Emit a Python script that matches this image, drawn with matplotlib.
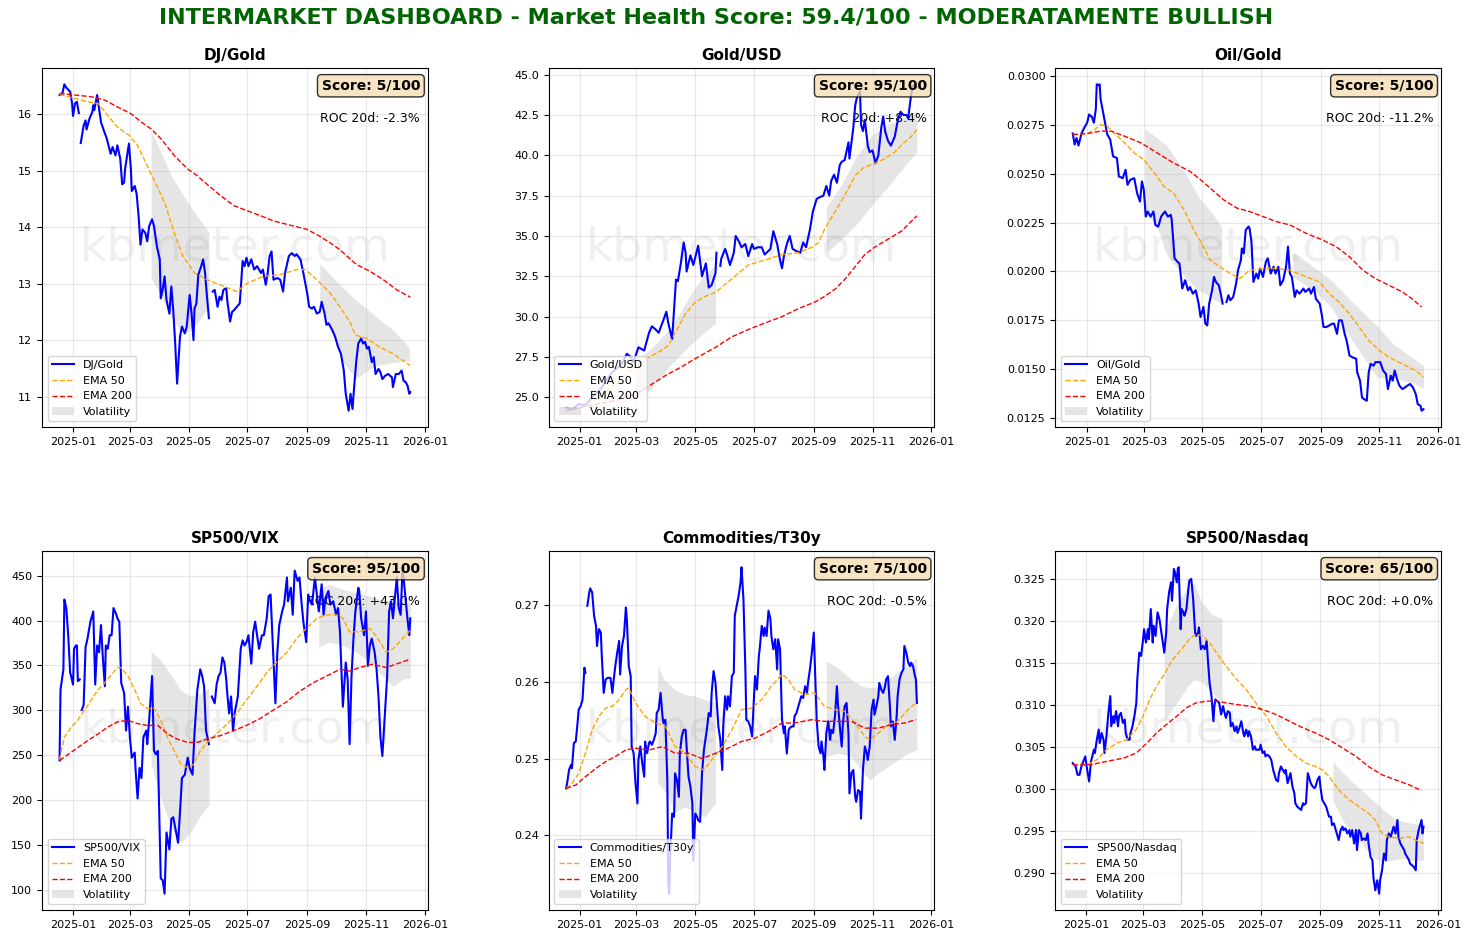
import numpy as np
import pandas as pd
import matplotlib
matplotlib.use("Agg")
import matplotlib.pyplot as plt
import matplotlib.dates as mdates

nan = float("nan")
BASE = pd.Timestamp("2025-01-01")

# ---------------- DATA (day offset from 2025-01-01, value) ----------------
titles = ["DJ/Gold", "Gold/USD", "Oil/Gold", "SP500/VIX", "Commodities/T30y", "SP500/Nasdaq"]
scores = [5, 95, 5, 95, 75, 65]
roc_20d = ["-2.3%", "+8.4%", "-11.2%", "+43.0%", "-0.5%", "+0.0%"]

djgold_price = [(-14,16.34),(-11,16.37),(-9,16.53),(-7,16.47),(-3,16.40),(-1,16.19),(0,15.97),(2,16.19),(4,16.22),(6,16.02),(7,nan),
 (8,15.49),(11,15.80),(13,15.89),(14,15.73),(17,15.92),(20,16.04),(21,16.16),(22,16.07),(25,16.34),(27,16.10),(29,15.86),(32,15.71),
 (35,15.57),(39,15.30),(41,15.42),(44,15.27),(46,15.45),(49,15.21),(51,14.76),(53,14.79),(54,15.03),(58,15.48),(60,15.03),(61,14.64),
 (64,14.73),(66,14.59),(68,14.20),(70,13.69),(72,13.96),(75,13.90),(77,13.75),(79,14.02),(82,14.14),(84,14.02),(87,13.66),(90,13.43),
 (91,12.74),(93,12.89),(95,13.13),(97,12.71),(100,12.47),(102,12.95),(104,12.53),(106,11.94),(108,11.23),(111,12.06),(113,12.24),
 (116,12.12),(118,12.24),(121,12.80),(123,12.47),(125,12.00),(126,12.56),(128,12.65),(130,13.16),(133,13.31),(135,13.43),(137,13.19),
 (139,12.77),(141,12.39),(143,nan),(145,12.86),(147,12.89),(150,12.59),(152,12.77),(154,12.71),(156,12.89),(159,12.92),(160,12.71),
 (163,12.33),(165,12.50),(167,12.53),(170,12.59),(173,12.65),(176,13.40),(178,13.31),(180,13.46),(182,13.31),(185,13.43),(188,13.25),
 (191,13.31),(195,13.19),(197,13.25),(200,12.98),(202,13.19),(204,13.49),(206,13.57),(208,13.07),(212,13.10),(215,13.07),(218,12.86),
 (220,13.19),(224,13.49),(227,13.54),(230,13.49),(232,13.52),(236,13.43),(239,13.19),(243,12.83),(245,12.59),(248,12.56),(250,12.59),
 (253,12.47),(256,12.50),(258,12.68),(261,12.47),(263,12.27),(265,12.30),(269,12.18),(272,12.06),(275,11.88),(278,11.76),(281,11.46),
 (283,11.05),(286,10.75),(288,11.05),(290,10.78),(292,11.23),(294,11.64),(296,11.94),(299,12.03),(301,11.94),(303,11.97),(305,11.85),
 (307,11.88),(310,11.61),(312,11.70),(314,11.40),(317,11.49),(319,11.43),(321,11.31),(324,11.37),(327,11.40),(331,11.34),(332,11.17),
 (335,11.40),(338,11.40),(341,11.46),(343,11.28),(345,11.26),(347,11.20),(349,11.05),(350,11.08)]
djgold_ema50 = [(-14,16.35),(2,16.28),(15,16.22),(26,16.19),(36,15.98),(46,15.77),(58,15.63),(67,15.45),(81,14.94),(95,14.44),(105,13.90),
 (114,13.49),(126,13.19),(139,13.07),(157,12.95),(170,12.86),(181,13.01),(198,13.13),(215,13.16),(232,13.25),(241,13.25),(253,13.07),
 (267,12.83),(277,12.59),(288,12.30),(293,12.09),(305,12.03),(318,11.88),(332,11.76),(350,11.55)]
djgold_ema200 = [(-14,16.37),(2,16.34),(19,16.31),(33,16.25),(46,16.13),(60,16.01),(71,15.86),(81,15.74),(91,15.57),(105,15.27),(119,15.03),
 (129,14.91),(139,14.76),(153,14.56),(167,14.38),(181,14.29),(195,14.20),(208,14.11),(222,14.05),(243,13.96),(256,13.84),(267,13.72),
 (277,13.60),(288,13.43),(294,13.34),(308,13.22),(322,13.07),(336,12.89),(350,12.76)]
djgold_vol1 = [(81,13.10,15.71),(91,12.80,15.33),(102,12.40,14.91),(115,12.10,14.55),(129,12.30,14.19),(141,12.60,13.91)]
djgold_vol2 = [(256,12.70,13.35),(267,12.20,13.16),(280,11.60,12.93),(294,11.32,12.70),(305,11.45,12.55),(315,11.55,12.41),(332,11.60,12.18),(349,11.64,11.87)]

goldusd_price = [(-14,24.38),(-8,24.25),(-1,24.58),(6,24.5),(13,25.0),(23,25.6),(33,26.5),(44,27.1),(49,27.7),(53,27.5),(56,27.2),(61,28.1),
 (67,27.9),(72,29.0),(75,29.4),(79,29.2),(82,29.0),(87,29.8),(90,30.3),(92,29.6),(96,28.6),(100,32.3),(102,32.2),(105,33.3),(108,34.6),
 (110,33.96),(111,32.8),(115,33.8),(118,33.2),(123,34.4),(127,32.5),(131,33.3),(134,31.8),(137,31.96),(141,32.7),(142,33.96),(144,nan),
 (146,33.15),(147,33.6),(151,34.2),(153,33.85),(156,33.2),(160,33.96),(162,35.0),(165,34.7),(168,34.3),(172,34.5),(175,33.75),(179,34.5),
 (181,34.2),(185,34.3),(189,34.3),(192,33.85),(194,33.96),(198,34.2),(201,35.3),(205,34.5),(208,33.5),(210,33.0),(212,33.75),(215,34.5),
 (218,35.0),(221,34.2),(225,34.06),(229,33.96),(232,34.6),(235,34.3),(239,35.4),(242,36.5),(246,37.3),(249,37.4),(253,37.5),(256,38.1),
 (259,37.5),(261,38.4),(264,38.8),(267,38.3),(270,39.4),(272,39.6),(275,39.7),(279,40.8),(280,39.8),(284,41.7),(286,43.1),(288,43.65),
 (291,43.96),(292,41.9),(294,41.5),(296,42.2),(299,40.6),(301,40.2),(304,40.3),(307,39.5),(310,40.0),(313,41.7),(315,42.4),(317,41.5),
 (320,40.9),(323,40.6),(327,41.15),(330,42.1),(333,42.7),(336,42.5),(339,42.5),(341,42.3),(344,43.75),(346,44.3),(348,44.4),(350,44.2)]
goldusd_ema50 = [(-14,24.17),(3,24.4),(20,25.0),(37,25.8),(54,26.7),(72,27.5),(82,27.8),(92,28.2),(101,29.2),(110,30.2),(120,30.9),(130,31.25),
 (141,31.5),(151,32.0),(161,32.5),(175,33.2),(192,33.5),(210,33.85),(227,33.96),(241,34.3),(248,34.6),(254,35.4),(265,36.5),(275,37.5),
 (286,38.75),(294,39.2),(306,39.5),(317,39.8),(327,40.2),(337,40.8),(344,41.15),(350,41.6)]
goldusd_ema200 = [(-14,24.17),(3,24.4),(20,24.6),(37,24.8),(58,25.2),(72,25.7),(89,26.35),(106,26.9),(123,27.5),(141,28.1),(158,28.75),
 (175,29.2),(192,29.6),(210,30.0),(227,30.5),(244,30.9),(254,31.25),(265,31.7),(275,32.3),(286,33.1),(296,33.85),(306,34.3),(320,34.8),
 (334,35.3),(350,36.25)]
goldusd_vol1 = [(58,24.9,27.3),(72,25.4,27.9),(96,27.1,29.4),(116,28.3,31.46),(131,29.1,32.7),(141,29.6,33.2)]
goldusd_vol2 = [(256,33.96,36.77),(270,34.7,38.0),(287,35.7,39.9),(304,36.96,41.3),(322,38.2,41.96),(339,39.46,42.4),(350,40.2,42.8)]

oilgold_price = [(-15,0.02707),(-13,0.0265),(-11,0.02684),(-9,0.02645),(-7,0.02684),(-6,0.02707),(-3,0.02736),(0,0.02762),(2,0.02804),
 (5,0.02792),(7,0.02762),(9,0.0283),(10,0.02959),(12,0.02954),(13,0.02959),(14,0.02882),(17,0.02804),(21,0.02701),(24,0.02676),(27,0.0259),
 (31,0.02581),(33,0.02487),(37,0.02478),(40,0.02521),(42,0.02444),(45,0.0247),(49,0.02478),(52,0.02401),(55,0.02358),(57,0.02461),
 (59,0.02418),(61,0.02281),(63,0.02307),(66,0.02281),(69,0.02307),(71,0.02238),(74,0.0223),(77,0.02281),(81,0.02307),(84,0.02281),
 (87,0.0229),(88,0.02264),(91,0.02067),(94,0.02049),(96,0.02041),(99,0.01912),(102,0.01955),(105,0.01903),(107,0.0192),(110,0.01886),
 (113,0.01903),(116,0.01835),(118,0.01766),(121,0.01818),(123,0.01732),(125,0.01723),(127,0.01835),(130,0.01903),(132,0.01972),
 (134,0.01946),(137,0.01929),(139,0.01886),(141,0.01835),(143,nan),(145,0.01843),(147,0.01878),(149,0.01852),(152,0.01869),(155,0.01938),
 (157,0.02006),(160,0.02058),(161,0.02118),(163,0.02092),(165,0.02212),(168,0.0223),(169,0.02221),(171,0.02152),(173,0.01946),
 (176,0.01989),(178,0.01963),(180,0.02015),(183,0.01972),(186,0.02049),(188,0.02067),(191,0.01989),(194,0.02024),(196,0.01989),
 (199,0.02024),(201,0.01929),(204,0.01955),(207,0.02024),(209,0.02127),(211,0.01989),(213,0.01972),(216,0.01869),(218,0.01903),
 (221,0.01886),(225,0.01912),(227,0.01895),(231,0.01912),(233,0.01886),(236,0.0192),(238,0.0186),(242,0.01835),(244,0.01783),
 (246,0.01715),(249,0.01715),(252,0.01723),(255,0.01732),(257,0.01732),(260,0.0168),(262,0.01749),(265,0.01749),(268,0.0168),
 (270,0.01646),(273,0.01569),(276,0.0156),(280,0.01552),(281,0.01483),(284,0.0144),(286,0.01354),(288,0.01346),(291,0.01337),
 (293,0.01483),(295,0.01526),(298,0.01517),(300,0.01535),(303,0.01535),(305,0.01535),(308,0.01492),(311,0.01474),(313,0.01397),
 (316,0.01466),(318,0.0144),(320,0.01492),(323,0.0144),(325,0.01414),(328,0.01397),(331,0.01406),(333,0.01414),(336,0.01423),
 (339,0.01406),(342,0.01371),(344,0.0132),(347,0.01311),(348,0.01286),(350,0.01294)]
oilgold_ema50 = [(-15,0.02701),(0,0.02707),(8,0.02727),(14,0.02753),(21,0.02744),(28,0.0271),(39,0.02659),(49,0.02607),(59,0.02573),
 (70,0.02504),(80,0.02435),(90,0.02401),(101,0.02315),(111,0.02212),(121,0.02127),(128,0.02058),(138,0.02024),(149,0.01989),
 (159,0.01963),(169,0.02006),(183,0.02015),(197,0.02015),(211,0.02006),(228,0.01972),(242,0.01946),(252,0.01886),(262,0.01843),
 (273,0.01783),(283,0.01715),(293,0.01646),(304,0.01595),(314,0.0156),(328,0.01526),(342,0.01492),(350,0.01457)]
oilgold_ema200 = [(-15,0.02701),(1,0.02707),(14,0.02719),(25,0.02719),(39,0.02693),(56,0.02659),(73,0.02607),(90,0.02556),(107,0.02513),
 (118,0.0247),(128,0.02427),(142,0.02367),(156,0.02324),(169,0.02307),(183,0.02281),(197,0.02255),(211,0.02238),(228,0.02195),
 (245,0.02161),(259,0.02127),(273,0.02075),(287,0.02006),(300,0.01963),(314,0.01929),(328,0.01895),(338,0.0186),(348,0.01818)]
oilgold_vol1 = [(60,0.0232,0.02731),(75,0.0220,0.02676),(82,0.02094,0.0265),(88,0.0205,0.02609),(102,0.0197,0.02506),(116,0.0190,0.02382),
 (123,0.01888,0.0234),(130,0.0186,0.0230),(140,0.01837,0.02228)]
oilgold_vol2 = [(214,0.01972,0.02101),(236,0.01903,0.02022),(254,0.01816,0.01955),(271,0.01682,0.01867),(288,0.01559,0.01785),
 (302,0.01456,0.01720),(319,0.01456,0.01625),(340,0.01425,0.01553),(350,0.01399,0.01517)]

spvix_price = [(-14,244.1),(-13,323),(-10,345.7),(-9,423.5),(-7,414),(-5,383.7),(-3,342),(-2,338),(0,328.7),(1,368.5),(3,372.3),(4,372.3),
 (5,332.5),(7,334.4),(8,nan),(9,300.3),(11,306),(13,370.4),(15,379.9),(18,398.8),(21,410.2),(23,328.7),(25,372.3),(27,364.7),(29,395),
 (31,357.1),(33,326.8),(34,372.3),(36,368.5),(38,383.7),(40,383.7),(42,414),(45,406.5),(46,402.6),(48,398.8),(50,330.6),(53,319.2),
 (55,277.5),(57,304),(59,270),(61,247.2),(64,252.9),(65,232),(67,201.7),(69,235.8),(71,224.4),(73,270),(76,277.5),(77,262.3),(79,288.9),
 (82,338.2),(84,254.8),(86,250.9),(88,254.8),(91,112.6),(93,110.7),(95,95.6),(97,163.8),(100,144.8),(102,178.9),(104,180.8),(107,163.8),
 (109,152.4),(111,186.6),(113,224.4),(116,228.2),(119,247.2),(121,235.8),(124,228.2),(126,273.7),(129,323),(132,345.7),(134,338.2),
 (136,326.8),(138,277.5),(141,262.3),(143,nan),(144,315.4),(147,307.8),(149,328.7),(151,338.2),(153,342),(155,359),(157,353.3),
 (159,334.4),(160,319.2),(162,296.5),(164,315.4),(166,277.5),(168,298.4),(171,315.4),(174,368.5),(176,378),(178,372.3),(180,376.1),
 (182,383.7),(185,352),(187,387.5),(189,398.8),(191,383.7),(193,368.5),(196,383.7),(198,383.7),(201,402.6),(203,427.3),(205,429.1),
 (207,379.9),(210,307.8),(212,364.7),(214,395),(217,410.2),(219,417.8),(222,448.1),(223,421.6),(226,436.7),(228,406.5),(230,455.7),
 (233,444.3),(235,448.1),(237,421.6),(239,398.8),(242,376.1),(244,429.1),(246,421.6),(248,417.8),(251,448.1),(253,429.1),(255,410.2),
 (258,440.5),(260,406.5),(262,425.4),(265,433),(267,417.8),(270,421.6),(273,406.5),(275,414),(277,387.5),(280,304),(283,353.3),
 (285,334.4),(287,262.3),(289,338.2),(291,379.9),(293,410.2),(296,436.7),(297,433),(299,402.6),(302,383.7),(304,410.2),(306,349.5),
 (308,372.3),(310,379.9),(313,364.7),(315,345.7),(317,315.4),(319,269.9),(321,249),(323,285),(326,338.2),(328,410.2),(330,421.6),
 (332,402.6),(334,425.4),(336,448.1),(338,414),(340,406.5),(342,459.5),(344,436.7),(346,414),(347,402.6),(349,383.7),(350,402.6)]
spvix_ema50 = [(-14,245),(-9,270),(-2,281.3),(5,288.9),(12,300.3),(19,311.6),(26,323),(33,330.6),(40,340),(46,347.6),(50,347.6),(57,338.2),
 (64,323),(70,307.8),(77,302.2),(84,302.2),(91,288.9),(98,269.9),(105,254.8),(112,239.6),(119,235.8),(125,239.6),(132,254.8),(139,264.2),
 (149,273.7),(160,285.1),(170,296.5),(180,311.6),(191,326.8),(201,342),(211,353.3),(222,364.7),(232,379.9),(242,391.3),(253,402.6),
 (263,406.5),(273,406.5),(280,402.6),(287,387.5),(297,387.5),(308,391.3),(314,383.7),(325,364.7),(332,368.5),(342,379.9),(350,389.3)]
spvix_ema200 = [(-14,244),(-5,250.9),(5,258.5),(15,266.1),(26,273.7),(36,281.3),(46,287),(57,288.9),(67,285.1),(77,283.2),(88,283.2),
 (98,273.7),(108,268),(119,264.2),(129,264.2),(139,268),(153,271.8),(167,277.5),(180,283.2),(194,290.8),(208,300.3),(222,309.7),
 (235,321.1),(249,330.6),(263,338.2),(277,345.7),(287,343.8),(297,347.6),(311,351.4),(325,347.6),(335,351.4),(350,357.1)]
spvix_vol1 = [(81,239.6,366.6),(86,222,361),(91,201.7,356),(100,176,342),(105,163.8,334),(112,152.4,322),(122,163.8,316),(132,182.7,318),
 (141,194.1,325)]
spvix_vol2 = [(255,370.4,434.8),(266,376.1,440.5),(280,372.3,434.8),(294,364.7,431),(308,353.3,427.3),(318,342,423.5),(332,326.8,421.6),
 (342,334.4,420.5),(350,336.3,419.7)]

comm_price = [(-14,0.24611),(-13,0.24677),(-11,0.24852),(-9,0.24917),(-8,0.24874),(-6,0.25201),(-4,0.25223),(-2,0.25485),(-1,0.25638),
 (1,0.25681),(3,0.25769),(5,0.26184),(6,0.26118),(7,nan),(8,0.26991),(10,0.27166),(11,0.27218),(13,0.27166),(15,0.2686),(17,0.26729),
 (18,0.26467),(20,0.26686),(22,0.26642),(23,0.26336),(25,0.25856),(27,0.26031),(29,0.26052),(30,0.26052),(32,0.26052),(34,0.25856),
 (35,0.25987),(37,0.26205),(39,0.2638),(41,0.26533),(42,0.26096),(44,0.26467),(46,0.26598),(48,0.26969),(49,0.26817),(51,0.26205),
 (53,0.26074),(54,0.25157),(56,0.2507),(58,0.24677),(60,0.24415),(61,0.24983),(63,0.25157),(65,0.24939),(67,0.24764),(68,0.25223),
 (70,0.2507),(72,0.25201),(73,0.25223),(75,0.2518),(77,0.25244),(79,0.25332),(80,0.25594),(82,0.25638),(84,0.25856),(86,0.2555),
 (87,0.25463),(89,0.25507),(91,0.24721),(92,0.2340),(93,0.2324),(94,0.2372),(96,0.24284),(98,0.2424),(99,0.24808),(101,0.24721),
 (103,0.24502),(104,0.2507),(106,0.25288),(108,0.25375),(110,0.25375),(111,0.25157),(113,0.24764),(115,0.24633),(117,0.24415),
 (118,0.23672),(120,0.24284),(122,0.2424),(123,0.24197),(125,0.24175),(127,0.24808),(129,0.25113),(130,0.25201),(132,0.25375),
 (134,0.25594),(136,0.2555),(137,0.25856),(139,0.2614),(141,0.25987),(144,0.25419),(146,0.25244),(148,0.24852),(149,0.25419),
 (151,0.25812),(153,0.25638),(154,0.25812),(156,0.25681),(158,0.26074),(160,0.26118),(161,0.2686),(163,0.26991),(165,0.27122),
 (167,0.27297),(168,0.27493),(170,0.27079),(172,0.26162),(173,0.25507),(175,0.25485),(177,0.25419),(179,0.25288),(180,0.2555),
 (182,0.26074),(184,0.259),(186,0.26336),(187,0.26445),(189,0.26729),(191,0.26598),(192,0.26707),(194,0.26598),(196,0.26926),
 (198,0.26817),(199,0.26598),(201,0.26424),(203,0.26555),(205,0.26162),(206,0.26555),(208,0.26424),(210,0.25507),(212,0.25332),
 (213,0.25419),(215,0.25066),(217,0.25375),(218,0.25397),(220,0.25419),(222,0.25419),(223,0.2555),(225,0.25594),(227,0.25681),
 (229,0.25769),(230,0.25812),(232,0.2579),(234,0.25943),(236,0.25856),(237,0.25987),(239,0.26162),(241,0.2638),(243,0.26642),
 (244,0.26249),(246,0.25507),(248,0.25157),(250,0.2507),(251,0.25223),(253,0.25026),(254,0.24852),(256,0.25332),(258,0.25485),
 (260,0.25244),(261,0.25375),(263,0.25332),(265,0.2555),(267,0.25943),(268,0.25725),(270,0.25419),(272,0.25157),(273,0.25419),
 (275,0.25681),(277,0.25725),(279,0.25332),(280,0.24546),(282,0.24808),(284,0.24852),(286,0.24502),(287,0.24437),(289,0.2459),
 (291,0.24568),(292,0.24218),(294,0.24852),(296,0.25157),(298,0.2507),(299,0.24983),(301,0.25157),(303,0.25638),(305,0.25769),
 (306,0.25572),(308,0.25681),(310,0.25812),(311,0.25987),(313,0.259),(315,0.25856),(317,0.25943),(318,0.26031),(320,0.26074),
 (322,0.25681),(323,0.25419),(325,0.25485),(327,0.25244),(329,0.2555),(330,0.25812),(332,0.26031),(334,0.26118),(336,0.26162),
 (337,0.26467),(339,0.2638),(341,0.26249),(343,0.26205),(344,0.26249),(346,0.26205),(348,0.26074),(349,0.26031),(350,0.25725)]
comm_ema50 = [(-14,0.24611),(-8,0.24677),(-1,0.24808),(6,0.2507),(13,0.25375),(20,0.2555),(27,0.25659),(34,0.25681),(41,0.25769),
 (48,0.259),(51,0.25921),(58,0.25725),(68,0.2555),(79,0.25463),(89,0.25419),(99,0.25157),(110,0.2507),(120,0.24895),(129,0.24852),
 (137,0.24983),(148,0.25157),(158,0.25375),(168,0.25638),(179,0.25659),(189,0.25769),(199,0.25943),(210,0.26096),(217,0.26031),
 (223,0.259),(234,0.25834),(244,0.25856),(254,0.25681),(265,0.25638),(275,0.25616),(286,0.25463),(296,0.25288),(301,0.25244),
 (310,0.25332),(320,0.25441),(330,0.25485),(341,0.25638),(349,0.25725)]
comm_ema200 = [(-14,0.24611),(-4,0.24655),(6,0.24764),(17,0.24874),(27,0.24961),(37,0.25026),(48,0.25113),(58,0.25135),(72,0.25113),
 (86,0.25157),(99,0.2507),(113,0.2507),(127,0.25),(141,0.2507),(154,0.25135),(168,0.25223),(182,0.25266),(196,0.25354),(210,0.25463),
 (223,0.25463),(241,0.25507),(254,0.25485),(268,0.25485),(282,0.25485),(296,0.25397),(310,0.25397),(323,0.25441),(337,0.25463),
 (349,0.25507)]
comm_vol1 = [(81,0.24677,0.26227),(87,0.2460,0.26031),(92,0.24502,0.2598),(99,0.24306,0.259),(110,0.24371,0.25834),(120,0.24284,0.25812),
 (130,0.2424,0.25769),(141,0.24415,0.25725)]
comm_vol2 = [(256,0.25026,0.26271),(268,0.2507,0.26184),(282,0.25026,0.26031),(292,0.24852,0.2595),(301,0.2472,0.2592),(310,0.24808,0.25943),
 (320,0.24895,0.26031),(330,0.24983,0.2613),(341,0.2507,0.26225),(350,0.25113,0.26314)]

spndx_price = [(-14,0.3031),(-11,0.3027),(-9,0.30171),(-7,0.30171),(-5,0.3027),(-3,0.3033),(-1,0.3039),(1,0.30231),(3,0.30092),(5,0.3033),
 (8,0.3047),(9,0.3043),(11,0.30589),(13,0.30709),(14,0.30549),(16,0.30669),(18,0.30589),(19,0.3043),(21,0.30629),(23,0.30908),
 (25,0.31107),(26,0.30748),(28,0.30868),(29,0.30788),(31,0.30928),(33,0.30748),(34,0.30868),(36,0.30908),(38,0.30788),(40,0.30828),
 (41,0.30669),(43,0.30589),(45,0.30589),(46,0.30669),(48,0.30748),(50,0.30868),(52,0.31027),(53,0.31306),(55,0.31624),(57,0.31584),
 (59,0.31783),(60,0.31903),(62,0.31744),(64,0.31903),(65,0.31783),(67,0.32142),(69,0.31744),(70,0.31943),(72,0.31823),(74,0.32102),
 (76,0.32022),(77,0.31943),(79,0.31783),(81,0.31624),(83,0.31863),(84,0.32142),(86,0.32341),(88,0.3246),(89,0.32241),(91,0.32619),
 (92,0.3258),(94,0.3246),(95,0.32619),(96,0.32639),(98,0.31903),(99,0.32142),(101,0.32102),(102,0.32062),(104,0.32142),(106,0.32381),
 (107,0.3248),(109,0.325),(111,0.32261),(113,0.31863),(114,0.31823),(116,0.31863),(117,0.31923),(119,0.31664),(121,0.31704),
 (123,0.31664),(125,0.31763),(126,0.31584),(128,0.31266),(130,0.31107),(132,0.30808),(133,0.30988),(134,0.31067),(136,0.31047),
 (138,0.31027),(140,0.30888),(142,0.30988),(144,0.30888),(145,0.30848),(147,0.30928),(149,0.30908),(150,0.30748),(152,0.30788),
 (154,0.30689),(156,0.30748),(157,0.30669),(159,0.30729),(161,0.30808),(163,0.30669),(164,0.30629),(166,0.30709),(168,0.30629),
 (169,0.30689),(171,0.30629),(173,0.3047),(175,0.3051),(176,0.3047),(178,0.3047),(180,0.3047),(181,0.3053),(183,0.3043),(185,0.3045),
 (186,0.3039),(188,0.3041),(190,0.3039),(192,0.3035),(194,0.30231),(195,0.30191),(197,0.30111),(199,0.30092),(200,0.30191),
 (202,0.3027),(204,0.30231),(206,0.30191),(207,0.30231),(209,0.30072),(211,0.30151),(212,0.30191),(214,0.30032),(216,0.29952),
 (217,0.29833),(219,0.29793),(221,0.29773),(223,0.29753),(225,0.29833),(226,0.29813),(228,0.29833),(230,0.30191),(231,0.30151),
 (233,0.30072),(235,0.30032),(237,0.30012),(238,0.30032),(240,0.30111),(242,0.30151),(243,0.30032),(245,0.29873),(247,0.29833),
 (249,0.29793),(250,0.29753),(252,0.29673),(254,0.29673),(255,0.29574),(257,0.29594),(259,0.29514),(260,0.29474),(262,0.29395),
 (264,0.29514),(266,0.29554),(267,0.29514),(269,0.29534),(271,0.29474),(273,0.29514),(274,0.29435),(276,0.29514),(278,0.29355),
 (280,0.29514),(281,0.29276),(283,0.29514),(285,0.29474),(286,0.29395),(288,0.29415),(290,0.29395),(292,0.29474),(293,0.29355),
 (295,0.29196),(297,0.29156),(298,0.28957),(300,0.28798),(302,0.28917),(304,0.28758),(305,0.28917),(307,0.29036),(309,0.29236),
 (311,0.29156),(312,0.29395),(314,0.29474),(316,0.29435),(317,0.29474),(319,0.29554),(321,0.29474),(323,0.29634),(324,0.29435),
 (326,0.29355),(328,0.29315),(330,0.29276),(331,0.29236),(333,0.29196),(335,0.29156),(336,0.29116),(338,0.29096),(340,0.29076),
 (342,0.29036),(343,0.29395),(345,0.29514),(347,0.29594),(348,0.29634),(349,0.29474),(350,0.29554)]
spndx_ema50 = [(-14,0.3029),(1,0.3029),(11,0.3035),(21,0.3047),(32,0.30549),(42,0.30589),(52,0.30709),(59,0.30868),(66,0.31067),
 (73,0.31226),(80,0.31346),(90,0.31545),(99,0.31664),(107,0.31783),(114,0.31843),(121,0.31823),(128,0.31744),(135,0.31624),
 (145,0.31465),(156,0.31306),(166,0.31186),(176,0.31027),(187,0.30868),(197,0.30669),(207,0.3051),(218,0.3039),(228,0.3031),
 (238,0.3027),(245,0.30231),(252,0.30151),(262,0.29992),(273,0.29873),(283,0.29793),(293,0.29713),(300,0.29634),(307,0.29474),
 (314,0.29435),(324,0.29415),(335,0.29435),(342,0.29395),(350,0.29355)]
spndx_ema200 = [(-14,0.3029),(4,0.3029),(21,0.3033),(39,0.3037),(52,0.3043),(63,0.30549),(73,0.30669),(83,0.30768),(94,0.30868),
 (104,0.30968),(114,0.31027),(125,0.31047),(135,0.31047),(145,0.31027),(156,0.31007),(169,0.30988),(183,0.30948),(197,0.30888),
 (211,0.30808),(225,0.30729),(238,0.30669),(252,0.30589),(266,0.3049),(280,0.3039),(293,0.3027),(307,0.30171),(321,0.30111),
 (335,0.30052),(348,0.29984)]
spndx_vol1 = [(81,0.3081,0.3185),(92,0.3099,0.3215),(105,0.3122,0.3240),(112,0.3130,0.3245),(120,0.3128,0.3222),(130,0.3115,0.3208),
 (141,0.3103,0.3203)]
spndx_vol2 = [(256,0.29873,0.3033),(266,0.29634,0.3020),(276,0.29474,0.30085),(286,0.29355,0.29985),(297,0.29196,0.29873),
 (307,0.29136,0.2977),(317,0.29156,0.29675),(328,0.29176,0.29615),(338,0.29156,0.29594),(350,0.29156,0.29574)]

prices = [djgold_price, goldusd_price, oilgold_price, spvix_price, comm_price, spndx_price]
ema50s = [djgold_ema50, goldusd_ema50, oilgold_ema50, spvix_ema50, comm_ema50, spndx_ema50]
ema200s = [djgold_ema200, goldusd_ema200, oilgold_ema200, spvix_ema200, comm_ema200, spndx_ema200]
vols = [[djgold_vol1, djgold_vol2], [goldusd_vol1, goldusd_vol2], [oilgold_vol1, oilgold_vol2],
        [spvix_vol1, spvix_vol2], [comm_vol1, comm_vol2], [spndx_vol1, spndx_vol2]]


def to_dates(days):
    return BASE + pd.to_timedelta(np.asarray(days, dtype=float), unit="D")


fig, axes = plt.subplots(2, 3, figsize=(14.64, 9.39), dpi=100)
fig.subplots_adjust(left=0.0287, right=0.9843, bottom=0.0309, top=0.9276, wspace=0.313, hspace=0.345)

for ax, title, price, e50, e200, vol, sc, roc in zip(axes.flat, titles, prices, ema50s, ema200s, vols, scores, roc_20d):
    d, v = zip(*price)
    ax.plot(to_dates(d), v, color="blue", lw=1.5, label=title, zorder=2)
    d, v = zip(*e50)
    ax.plot(to_dates(d), v, color="orange", ls="--", lw=1, label="EMA 50", zorder=2)
    d, v = zip(*e200)
    ax.plot(to_dates(d), v, color="red", ls="--", lw=1, label="EMA 200", zorder=2)
    for i, seg in enumerate(vol):
        d, lo, hi = zip(*seg)
        ax.fill_between(to_dates(d), lo, hi, color="gray", alpha=0.2, lw=0,
                        label="Volatility" if i == 0 else None, zorder=1)
    ax.set_title(title, fontsize=11, fontweight="bold")
    ax.grid(True, alpha=0.3)
    ax.xaxis.set_major_locator(mdates.MonthLocator(bymonth=[1, 3, 5, 7, 9, 11]))
    ax.xaxis.set_major_formatter(mdates.DateFormatter("%Y-%m"))
    ax.tick_params(labelsize=8)
    ax.legend(loc="lower left", fontsize=8)
    ax.text(0.5, 0.5, "kbmeter.com", transform=ax.transAxes, fontsize=34, color="gray",
            alpha=0.12, ha="center", va="center", zorder=0.5)
    ax.text(0.98, 0.97, f"Score: {sc}/100", transform=ax.transAxes, ha="right", va="top",
            fontsize=10, fontweight="bold", zorder=5,
            bbox=dict(boxstyle="round", facecolor="wheat", alpha=0.8))
    ax.text(0.98, 0.86, f"ROC 20d: {roc}", transform=ax.transAxes, ha="right", va="center",
            fontsize=9, zorder=1.5)

fig.text(0.489, 0.981, "INTERMARKET DASHBOARD - Market Health Score: 59.4/100 - MODERATAMENTE BULLISH",
         ha="center", va="center", fontsize=16, fontweight="bold", color="darkgreen")

fig.savefig("out.png", dpi=100)
